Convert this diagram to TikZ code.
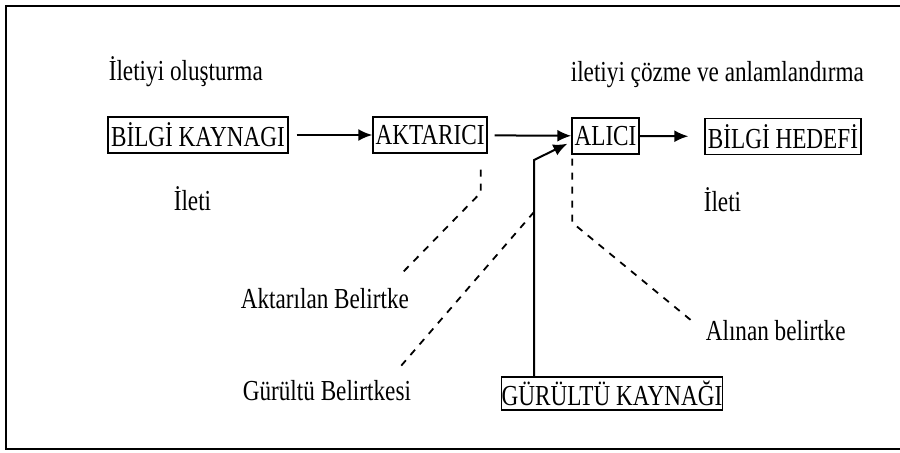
\documentclass[tikz,border=0pt]{standalone}
\usepackage{fontspec}
\setmainfont{Liberation Serif}[FakeStretch=0.8]
\usetikzlibrary{arrows.meta}
\tikzset{every picture/.style={line width=0.8pt}}

\begin{document}
\begin{tikzpicture}[x=0.5pt, y=-0.5pt, >={Latex[length=7pt,width=6pt]},
    every node/.style={font=\fontsize{14.5}{17}\selectfont, inner sep=0pt},
    kutu/.style={draw, line width=0.7pt, minimum height=18pt},
    etiket/.style={anchor=base west},
    ok/.style={->, line width=1pt},
    iz/.style={dash pattern=on 3.5pt off 3.5pt, line width=0.9pt}]
        \useasboundingbox (0,0) rectangle (900,452);
        \draw[line width=1pt] (900,6) -- (6,6) -- (6,449) -- (900,449);
        % kutular
        \node[kutu, minimum width=90pt] (kaynak) at (198,135) {BİLGİ KAYNAGI};
        \node[kutu, minimum width=57pt] (aktarici) at (430,135) {AKTARICI};
        \node[kutu, minimum width=33.5pt] (alici) at (605.5,136) {ALICI};
        \node[kutu, minimum width=78pt] (hedef) at (783,136.5) {BİLGİ HEDEFİ};
        \node[kutu, minimum width=108pt, minimum height=16.5pt] (gurultu) at (612,393.5) {GÜRÜLTÜ KAYNAĞI};
        % yazilar
        \node[etiket] (olustur) at (108,80) {İletiyi oluşturma};
        \node[etiket] (coz) at (570,81) {iletiyi çözme ve anlamlandırma};
        \node[etiket] (ileti1) at (173,210) {İleti};
        \node[etiket] (ileti2) at (703,211) {İleti};
        \node[etiket] (aktlbl) at (240,308) {Aktarılan Belirtke};
        \node[etiket] (gurlbl) at (242,400) {Gürültü Belirtkesi};
        \node[etiket] (alnlbl) at (705,340) {Alınan belirtke};
        % akis
        \draw[ok, shorten <=4pt] (kaynak) -- (aktarici);
        \draw[ok, shorten <=3.5pt] (aktarici) -- (alici);
        \draw[ok, shorten >=8pt] (alici) -- (hedef);
        \coordinate (kirik) at (534,160);
        \coordinate (ayrim) at (534,212);
        \draw[ok] (kirik |- gurultu.north) -- (kirik) -- ([xshift=-2pt,yshift=5.5pt]alici.south west);
        % belirtkeler
        \draw[iz] ([xshift=-3.5pt,yshift=-8pt]aktarici.south east) -- ++(0,23) -- ([xshift=81pt,yshift=7pt]aktlbl.north west);
        \draw[iz] (ayrim) -- ([xshift=79pt,yshift=6pt]gurlbl.north west);
        \draw[iz] ([xshift=0.5pt,yshift=-2pt]alici.south west) -- ++(0,64) -- ([xshift=-6.5pt,yshift=-1pt]alnlbl.north west);
    \end{tikzpicture}
\end{document}
